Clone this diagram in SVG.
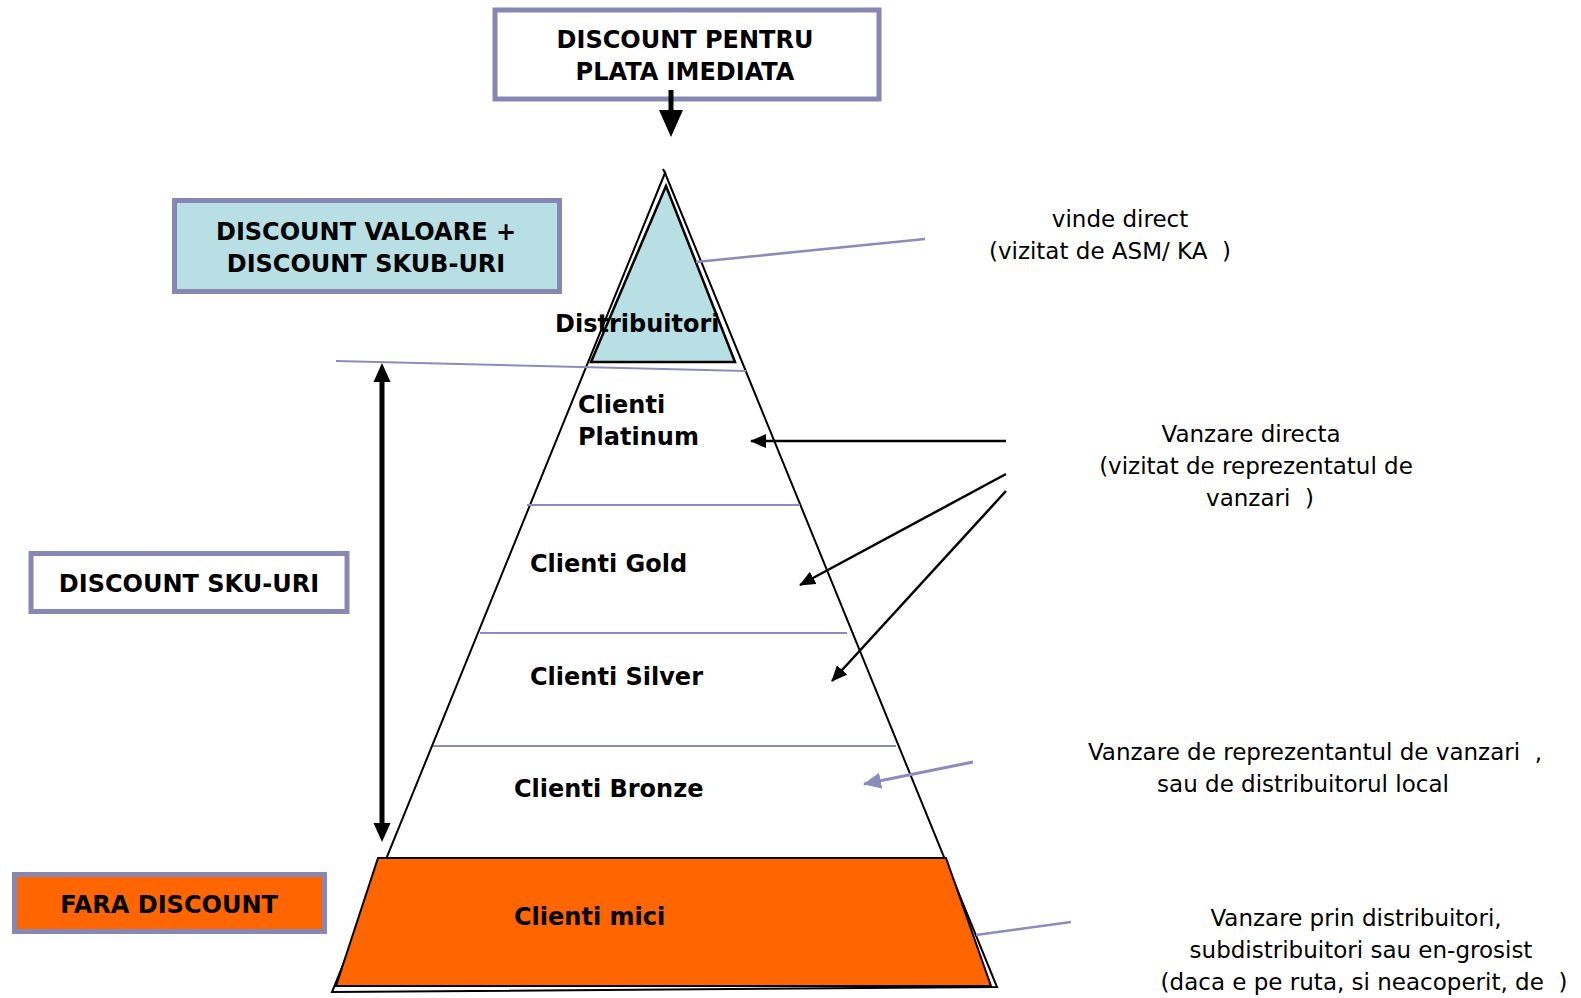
<svg xmlns="http://www.w3.org/2000/svg" width="1581" height="998" viewBox="0 0 1581 998">
<style>
.box{stroke:#8787b4;stroke-width:5}
.bt{font-family:"DejaVu Sans",Verdana,sans-serif;font-weight:bold;font-size:24px;fill:#000}
.rt{font-family:"DejaVu Sans",Tahoma,sans-serif;font-size:23px;fill:#000;text-anchor:middle}
.sep{stroke:#8c8cbc;stroke-width:2;fill:none}
.edge{stroke:#000;stroke-width:2}
.ar{stroke:#000;stroke-width:2.5;fill:none}
.arp{stroke:#8c8cbc;stroke-width:3;fill:none}
</style>
<defs>
<marker id="ah" markerUnits="userSpaceOnUse" markerWidth="16" markerHeight="14" refX="15" refY="7" orient="auto"><path d="M0,0 L16,7 L0,14 z" fill="#000"/></marker>
<marker id="ahp" markerUnits="userSpaceOnUse" markerWidth="18" markerHeight="16" refX="17" refY="8" orient="auto"><path d="M0,0 L18,8 L0,16 z" fill="#8c8cbc"/></marker>
</defs>
<rect width="1581" height="998" fill="#fff"/>

<g id="pyramid">
<polygon points="665,173 332,992 997,987" fill="#fff" class="edge"/>
<line x1="663" y1="169" x2="666" y2="175" class="edge"/>
<line class="sep" x1="336" y1="361" x2="746" y2="371"/>
<line class="sep" x1="527" y1="505" x2="800" y2="505"/>
<line class="sep" x1="480" y1="633" x2="847" y2="633"/>
<line class="sep" x1="433" y1="746" x2="896" y2="746"/>
</g>

<g id="distribuitori">
<polygon points="666,186 591,362 735,362" fill="#b8dfe3" stroke="#000" stroke-width="2.5"/>
<text class="bt" x="555" y="332">Distribuitori</text>
</g>

<g id="platinum"><text class="bt" x="578" y="413">Clienti</text><text class="bt" x="578" y="445">Platinum</text></g>
<g id="gold"><text class="bt" x="530" y="572">Clienti Gold</text></g>
<g id="silver"><text class="bt" x="530" y="685">Clienti Silver</text></g>
<g id="bronze"><text class="bt" x="514" y="797">Clienti Bronze</text></g>
<g id="mici">
<polygon points="378,858 946,858 991,986 336,986" fill="#ff6600" class="edge"/>
<text class="bt" x="514" y="925">Clienti mici</text>
</g>

<g id="box-plata">
<rect class="box" x="495" y="10" width="384" height="89" fill="#fff"/>
<text class="bt" x="685" y="48" text-anchor="middle">DISCOUNT PENTRU</text>
<text class="bt" x="685" y="80" text-anchor="middle">PLATA IMEDIATA</text>
</g>
<g id="box-valoare">
<rect class="box" x="174.5" y="200.5" width="385" height="91" fill="#b8dfe3"/>
<text class="bt" x="366" y="240" text-anchor="middle">DISCOUNT VALOARE +</text>
<text class="bt" x="366" y="272" text-anchor="middle">DISCOUNT SKUB-URI</text>
</g>
<g id="box-sku">
<rect class="box" x="31" y="553.5" width="316" height="58" fill="#fff"/>
<text class="bt" x="189" y="592" text-anchor="middle">DISCOUNT SKU-URI</text>
</g>
<g id="box-fara">
<rect class="box" x="14.5" y="874.5" width="310" height="57" fill="#ff6600"/>
<text class="bt" x="169" y="913" text-anchor="middle">FARA DISCOUNT</text>
</g>

<g id="label-asm">
<text class="rt" x="1120" y="227">vinde direct</text>
<text class="rt" x="1110" y="259" xml:space="preserve">(vizitat de ASM/ KA  )</text>
</g>
<g id="label-directa">
<text class="rt" x="1251" y="442">Vanzare directa</text>
<text class="rt" x="1256" y="474">(vizitat de reprezentatul de</text>
<text class="rt" x="1260" y="506" xml:space="preserve">vanzari  )</text>
</g>
<g id="label-reprezentant">
<text class="rt" x="1315" y="760" xml:space="preserve">Vanzare de reprezentantul de vanzari  ,</text>
<text class="rt" x="1303" y="792">sau de distribuitorul local</text>
</g>
<g id="label-distributie">
<text class="rt" x="1356" y="926">Vanzare prin distribuitori,</text>
<text class="rt" x="1361" y="958">subdistribuitori sau en-grosist</text>
<text class="rt" x="1364" y="990" xml:space="preserve">(daca e pe ruta, si neacoperit, de  )</text>
</g>

<g id="connectors">
<line x1="671" y1="90" x2="671" y2="112" stroke="#000" stroke-width="5"/>
<polygon points="659,110 683,110 671,137" fill="#000"/>
<line x1="382" y1="380" x2="382" y2="825" stroke="#000" stroke-width="5"/>
<polygon points="373.5,382 390.5,382 382,363" fill="#000"/>
<polygon points="373.5,823 390.5,823 382,842" fill="#000"/>
<line class="ar" x1="1006" y1="441" x2="751" y2="441" marker-end="url(#ah)"/>
<line class="ar" x1="1006" y1="474" x2="800" y2="585" marker-end="url(#ah)"/>
<line class="ar" x1="1006" y1="491" x2="832" y2="681" marker-end="url(#ah)"/>
<line class="arp" x1="973" y1="762" x2="864" y2="784" marker-end="url(#ahp)"/>
<line class="sep" style="stroke-width:2.5" x1="925" y1="239" x2="696" y2="262"/>
<line class="sep" style="stroke-width:2.5" x1="1071" y1="922" x2="976" y2="935"/>
</g>
</svg>
